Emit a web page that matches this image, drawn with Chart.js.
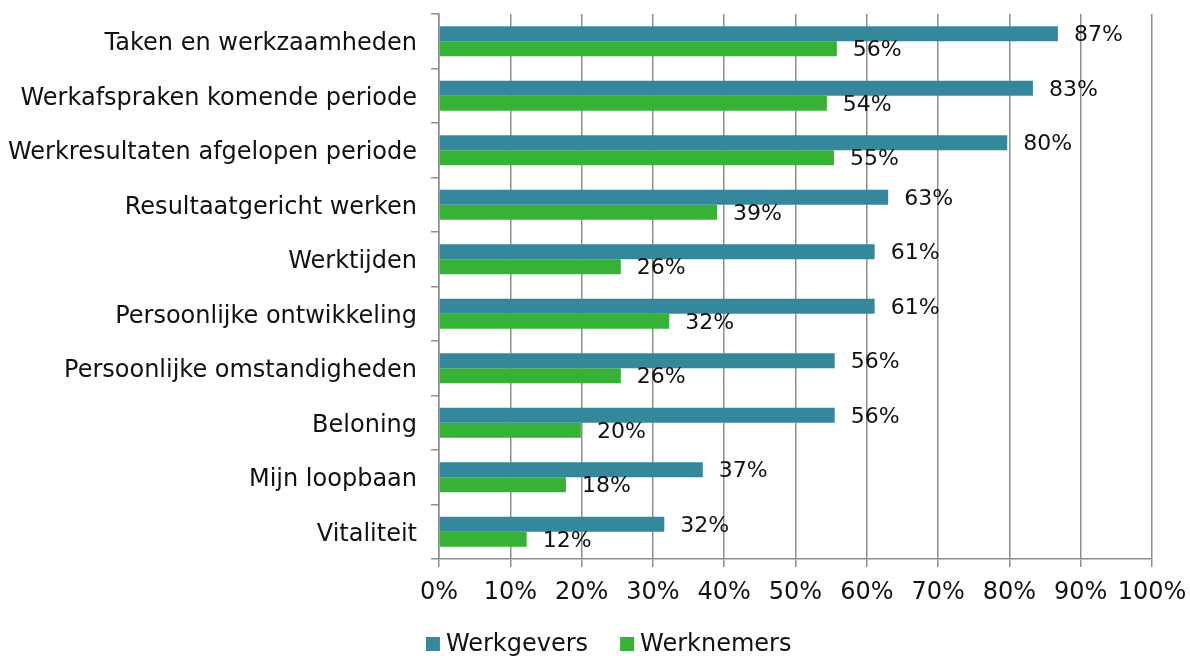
<!DOCTYPE html>
<html><head><meta charset="utf-8">
<script src="https://cdn.jsdelivr.net/npm/chart.js@4/dist/chart.umd.min.js"></script>
<style>html,body{margin:0;padding:0;background:#fff}#wrap{width:1190px;height:656px}</style>
</head><body><div id="wrap"><canvas id="c"></canvas></div>
<script>
const categories = ["Taken en werkzaamheden","Werkafspraken komende periode","Werkresultaten afgelopen periode","Resultaatgericht werken","Werktijden","Persoonlijke ontwikkeling","Persoonlijke omstandigheden","Beloning","Mijn loopbaan","Vitaliteit"];
const werkgevers = [86.8,83.3,79.7,63.0,61.1,61.1,55.5,55.5,37.0,31.6];
const werknemers = [55.8,54.4,55.4,39.0,25.5,32.3,25.5,19.9,17.8,12.3];
const seriesNames = ["Werkgevers","Werknemers"];
const xTicks = [0,10,20,30,40,50,60,70,80,90,100];

const FONT = "'DejaVu Sans', Verdana, sans-serif";
const labelPlugin = {
  id:'vlabels',
  afterDatasetsDraw(chart){
    const ctx = chart.ctx;
    ctx.save();
    ctx.font = "22px " + FONT;
    ctx.fillStyle = "#111";
    ctx.textBaseline = "middle";
    ctx.textAlign = "left";
    chart.data.datasets.forEach((ds,i)=>{
      chart.getDatasetMeta(i).data.forEach((bar,j)=>{
        ctx.fillText(Math.round(ds.data[j]) + "%", bar.x + 16, bar.y + 2);
      });
    });
    ctx.restore();
  }
};
const legendPlugin = {
  id:'customLegend',
  afterDraw(chart){
    const ctx = chart.ctx;
    ctx.save();
    ctx.font = "24px " + FONT;
    ctx.textBaseline = "alphabetic";
    ctx.textAlign = "left";
    const box = 14, gapText = 6, gapItem = 32;
    const items = chart.data.datasets.map(ds=>({label:ds.label,color:ds.backgroundColor,w:ctx.measureText(ds.label).width}));
    const total = items.reduce((a,it)=>a+box+gapText+it.w,0) + gapItem*(items.length-1);
    let x = chart.width*0.5115 - total/2;
    const baseY = chart.height - 5;
    items.forEach(it=>{
      ctx.fillStyle = it.color;
      ctx.fillRect(x, baseY-14, box, box);
      ctx.fillStyle = "#111";
      ctx.fillText(it.label, x+box+gapText, baseY);
      x += box+gapText+it.w+gapItem;
    });
    ctx.restore();
  }
};
new Chart(document.getElementById('c'),{
  type:'bar',
  data:{labels:categories,datasets:[
    {label:seriesNames[0],data:werkgevers,backgroundColor:'#35889c',categoryPercentage:0.55,barPercentage:1},
    {label:seriesNames[1],data:werknemers,backgroundColor:'#36b236',categoryPercentage:0.55,barPercentage:1}
  ]},
  options:{
    indexAxis:'y',responsive:true,maintainAspectRatio:false,animation:false,
    layout:{padding:{top:14,right:38,left:0,bottom:40}},
    plugins:{legend:{display:false},tooltip:{enabled:false}},
    scales:{
      x:{min:0,max:100,
        afterBuildTicks(s){s.ticks = xTicks.map(v=>({value:v}));},
        ticks:{callback:v=>v+'%',font:{family:FONT,size:24},color:'#111',padding:11,maxRotation:0,autoSkip:false},
        grid:{color:'#8e8e8e',lineWidth:1.5,tickLength:8},
        border:{color:'#8e8e8e',width:1.5},
        afterFit(s){s.height=57;s.paddingLeft=0;s.paddingRight=0;}
      },
      y:{
        ticks:{font:{family:FONT,size:24},color:'#111',padding:14,labelOffset:3},
        grid:{drawOnChartArea:false,color:'#8e8e8e',lineWidth:1.5,tickLength:8,offset:true},
        border:{color:'#8e8e8e',width:1.5},
        afterFit(s){s.width=439;s.paddingTop=0;s.paddingBottom=0;}
      }
    }
  },
  plugins:[labelPlugin,legendPlugin]
});
</script></body></html>
